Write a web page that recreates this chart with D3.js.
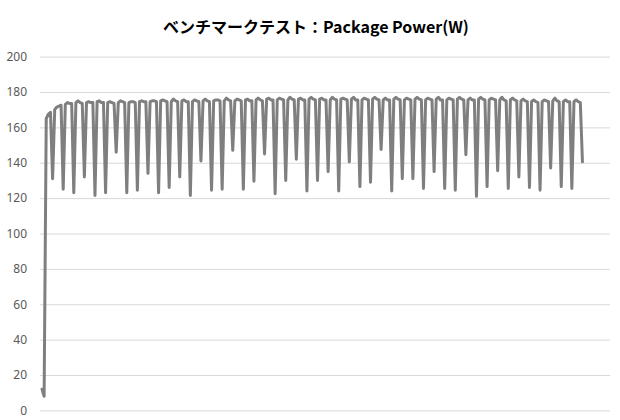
<!DOCTYPE html>
<html>
<head>
<meta charset="utf-8">
<script src="https://cdn.jsdelivr.net/npm/d3@7"></script>
<style>
  body { margin: 0; background: #fff; }
</style>
</head>
<body>
<script>
// タイトル
var title = "ベンチマークテスト：Package Power(W)";
// Y軸の目盛り
var yTicks = [0, 20, 40, 60, 80, 100, 120, 140, 160, 180, 200];
// 計測値 (W)
var power = [
  12, 8, 165, 167.5, 168.5,
  131, 170, 171.5, 172, 172.5,
  125, 173, 174, 173.5, 173.5,
  123, 174, 175, 174, 173.5,
  132, 174, 174.5, 174, 174,
  121.5, 174.5, 175, 174, 174,
  123, 174, 174.5, 174, 173.5,
  146, 174, 175, 174.5, 174,
  123, 174, 174.5, 174.5, 174,
  124.5, 174.5, 175, 174.5, 174.5,
  134, 174.5, 175, 175, 174.5,
  123, 175, 175.5, 175, 174.5,
  126, 174.5, 176, 175, 174.5,
  132, 175, 175.5, 174.5, 174.5,
  121.5, 174.5, 175.5, 175, 174.5,
  141, 175, 176, 175, 174.5,
  124.5, 175, 175.5, 175.5, 175,
  125, 175, 176.5, 175.5, 175,
  147, 175, 176, 175.5, 175,
  125, 175.5, 176, 175, 175,
  129.5, 175.5, 176.5, 175.5, 175,
  145, 176, 176.5, 175.5, 175.5,
  122.5, 175.5, 176.5, 176, 175.5,
  130, 175.5, 177, 176, 175.5,
  142, 176, 176.5, 175.5, 175.5,
  124, 176, 177, 176, 175.5,
  130, 176, 176.5, 175.5, 175.5,
  135, 175.5, 177, 176, 175.5,
  124, 176, 176.5, 176, 175.5,
  140.5, 176, 177, 175.5, 175.5,
  126.5, 175.5, 176.5, 176, 175.5,
  129, 176, 177, 176, 175.5,
  147.5, 175.5, 176.5, 175.5, 175.5,
  124, 176, 177, 176, 175.5,
  131, 175.5, 176.5, 176, 175.5,
  131, 176, 177, 176, 175.5,
  125.5, 175.5, 176.5, 176, 175.5,
  135, 176, 177, 175.5, 175.5,
  125.5, 175.5, 176.5, 176, 175.5,
  124.5, 176, 177, 176, 175.5,
  144.5, 175.5, 176.5, 175.5, 175.5,
  121, 176, 177, 176, 175.5,
  126.5, 175.5, 176.5, 176, 175.5,
  135.5, 175.5, 177, 175.5, 175,
  125.5, 175.5, 176.5, 175.5, 175,
  132, 175, 176, 175, 174.5,
  126, 174.5, 175.5, 174.5, 174,
  124.5, 174.5, 175.5, 175, 174.5,
  137, 175, 176.5, 175, 174.5,
  126.5, 174.5, 175.5, 174.5, 174.5,
  125.5, 174.5, 175.5, 174.5, 174,
  140.5
];

drawChart();

function drawChart() {
  var w = 620;
  var h = 420;
  // プロット領域
  var plotLeft = 40, plotRight = 610, plotTop = 56.6, plotBottom = 410.4;

  var svg = d3.select("body").append("svg")
    .attr("width", w).attr("height", h);

  var x = d3.scaleLinear().domain([0, 268]).range([42, plotRight]);
  var y = d3.scaleLinear().domain([0, 200]).range([plotBottom, plotTop]);

  // タイトル
  svg.append("text")
    .attr("x", 316).attr("y", 33)
    .attr("text-anchor", "middle")
    .attr("font-family", "'Noto Sans CJK JP', 'Noto Sans', sans-serif")
    .attr("font-weight", "bold")
    .attr("font-size", 16)
    .attr("fill", "#000")
    .text(title);

  // 目盛り線とラベル
  var yAxis = d3.axisLeft(y)
    .tickValues(yTicks)
    .tickSize(-(plotRight - plotLeft))
    .tickPadding(13)
    .tickFormat(d3.format("d"));

  var g = svg.append("g")
    .attr("transform", "translate(" + plotLeft + ",0)")
    .call(yAxis);
  g.select(".domain").remove();
  g.selectAll(".tick line").attr("stroke", "#d9d9d9").attr("stroke-width", 1);
  g.selectAll(".tick text")
    .attr("fill", "#595959")
    .attr("font-family", "'Noto Sans', 'DejaVu Sans', sans-serif")
    .attr("font-size", 12);

  // 折れ線
  var line = d3.line()
    .x(function(d, i) { return x(i); })
    .y(function(d) { return y(d); });

  svg.append("path")
    .datum(power)
    .attr("d", line)
    .attr("fill", "none")
    .attr("stroke", "#7f7f7f")
    .attr("stroke-width", 3)
    .attr("stroke-linejoin", "round")
    .attr("stroke-linecap", "round");
}
</script>
</body>
</html>
